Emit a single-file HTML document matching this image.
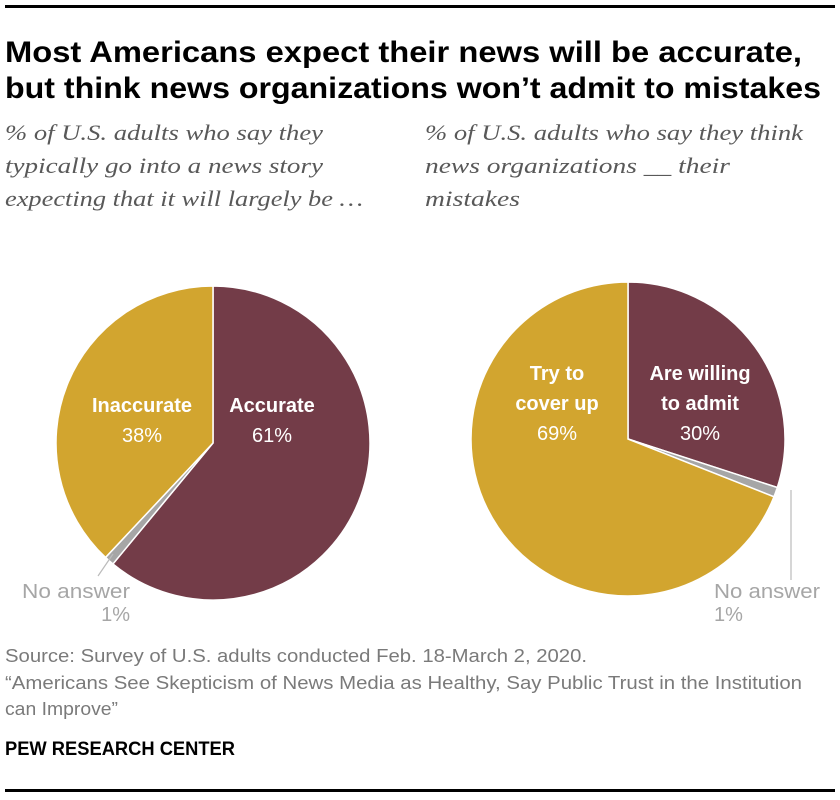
<!DOCTYPE html>
<html><head><meta charset="utf-8"><style>
html,body{margin:0;padding:0;background:#fff;}
svg{display:block;}
</style></head><body>
<svg id="chart" width="840" height="800" viewBox="0 0 840 800" xmlns="http://www.w3.org/2000/svg">
<rect x="5" y="5" width="830" height="3" fill="#000"/>
<g font-family="'Liberation Sans', sans-serif" font-weight="bold" font-size="30" fill="#000">
<text x="5" y="62" textLength="797" lengthAdjust="spacingAndGlyphs">Most Americans expect their news will be accurate,</text>
<text x="5" y="98" textLength="816" lengthAdjust="spacingAndGlyphs">but think news organizations won’t admit to mistakes</text>
</g>
<g font-family="'Liberation Serif', serif" font-style="italic" font-size="22" fill="#595959">
<text x="5" y="140" textLength="318" lengthAdjust="spacingAndGlyphs">% of U.S. adults who say they</text>
<text x="5" y="173" textLength="318" lengthAdjust="spacingAndGlyphs">typically go into a news story</text>
<text x="5" y="206" textLength="358" lengthAdjust="spacingAndGlyphs">expecting that it will largely be …</text>
</g>
<g font-family="'Liberation Serif', serif" font-style="italic" font-size="22" fill="#595959">
<text x="425" y="140" textLength="378" lengthAdjust="spacingAndGlyphs">% of U.S. adults who say they think</text>
<text x="425" y="173" textLength="305" lengthAdjust="spacingAndGlyphs">news organizations __ their</text>
<text x="425" y="206" textLength="95" lengthAdjust="spacingAndGlyphs">mistakes</text>
</g>
<g id="pies"></g>
<g font-family="'Liberation Sans', sans-serif" font-size="20" fill="#a6a6a6">
<line x1="113" y1="554" x2="98" y2="576" stroke="#bbb" stroke-width="1.2"/>
<text x="130" y="598" text-anchor="end" textLength="108" lengthAdjust="spacingAndGlyphs">No answer</text>
<text x="130" y="621" text-anchor="end">1%</text>
<line x1="791" y1="490" x2="791" y2="580" stroke="#bbb" stroke-width="1.2"/>
<text x="714" y="598" textLength="106" lengthAdjust="spacingAndGlyphs">No answer</text>
<text x="714" y="621">1%</text>
</g>
<g font-family="'Liberation Sans', sans-serif" font-size="18" fill="#7a7a7a">
<text x="5" y="662" textLength="582" lengthAdjust="spacingAndGlyphs">Source: Survey of U.S. adults conducted Feb. 18-March 2, 2020.</text>
<text x="5" y="689" textLength="797" lengthAdjust="spacingAndGlyphs">“Americans See Skepticism of News Media as Healthy, Say Public Trust in the Institution</text>
<text x="5" y="715" textLength="113" lengthAdjust="spacingAndGlyphs">can Improve”</text>
</g>
<text x="5" y="755" font-family="'Liberation Sans', sans-serif" font-weight="bold" font-size="19" fill="#000" textLength="230" lengthAdjust="spacingAndGlyphs">PEW RESEARCH CENTER</text>
<rect x="5" y="789" width="830" height="3" fill="#000"/>
</svg>
<script>
const leftCategories = ["Accurate", "No answer", "Inaccurate"];
const leftValues = [61, 1, 38];
const rightCategories = ["Are willing to admit", "No answer", "Try to cover up"];
const rightValues = [30, 1, 69];
const colors = ["#733c48", "#a6a6a6", "#d2a52f"];
const NS = "http://www.w3.org/2000/svg";
const pies = document.getElementById('pies');
function drawPie(cx, cy, r, values, cats, name) {
  const g = document.createElementNS(NS, 'g');
  
  
  const total = values.reduce((a, b) => a + b, 0);
  let acc = 0;
  values.forEach((v, i) => {
    const a0 = acc / total * 2 * Math.PI; acc += v;
    const a1 = acc / total * 2 * Math.PI;
    const x0 = cx + r * Math.sin(a0), y0 = cy - r * Math.cos(a0);
    const x1 = cx + r * Math.sin(a1), y1 = cy - r * Math.cos(a1);
    const large = (a1 - a0) > Math.PI ? 1 : 0;
    const p = document.createElementNS(NS, 'path');
    p.setAttribute('d', `M${cx},${cy} L${x0},${y0} A${r},${r} 0 ${large} 1 ${x1},${y1} Z`);
    p.setAttribute('fill', colors[i]);
    p.setAttribute('stroke', '#fff');
    p.setAttribute('stroke-width', '1.5');
    
    
    g.appendChild(p);
  });
  pies.appendChild(g);
}
drawPie(213, 443, 157, leftValues, leftCategories, 'pie-accuracy');
drawPie(628, 439, 157, rightValues, rightCategories, 'pie-mistakes');
function label(lines, x, y0, name) {
  const t = document.createElementNS(NS, 'text');
  
  
  t.setAttribute('font-family', "'Liberation Sans', sans-serif");
  t.setAttribute('font-size', '20');
  t.setAttribute('fill', '#fff');
  t.setAttribute('text-anchor', 'middle');
  lines.forEach((l, i) => {
    const s = document.createElementNS(NS, 'tspan');
    s.setAttribute('x', x);
    s.setAttribute('y', y0 + i * 30);
    if (l.bold) s.setAttribute('font-weight', 'bold');
    s.textContent = l.t;
    t.appendChild(s);
  });
  pies.appendChild(t);
}
label([{t: leftCategories[2], bold: 1}, {t: leftValues[2] + '%'}], 142, 412, 'label-inaccurate');
label([{t: leftCategories[0], bold: 1}, {t: leftValues[0] + '%'}], 272, 412, 'label-accurate');
label([{t: 'Try to', bold: 1}, {t: 'cover up', bold: 1}, {t: rightValues[2] + '%'}], 557, 380, 'label-cover-up');
label([{t: 'Are willing', bold: 1}, {t: 'to admit', bold: 1}, {t: rightValues[0] + '%'}], 700, 380, 'label-willing');
</script>
</body></html>
